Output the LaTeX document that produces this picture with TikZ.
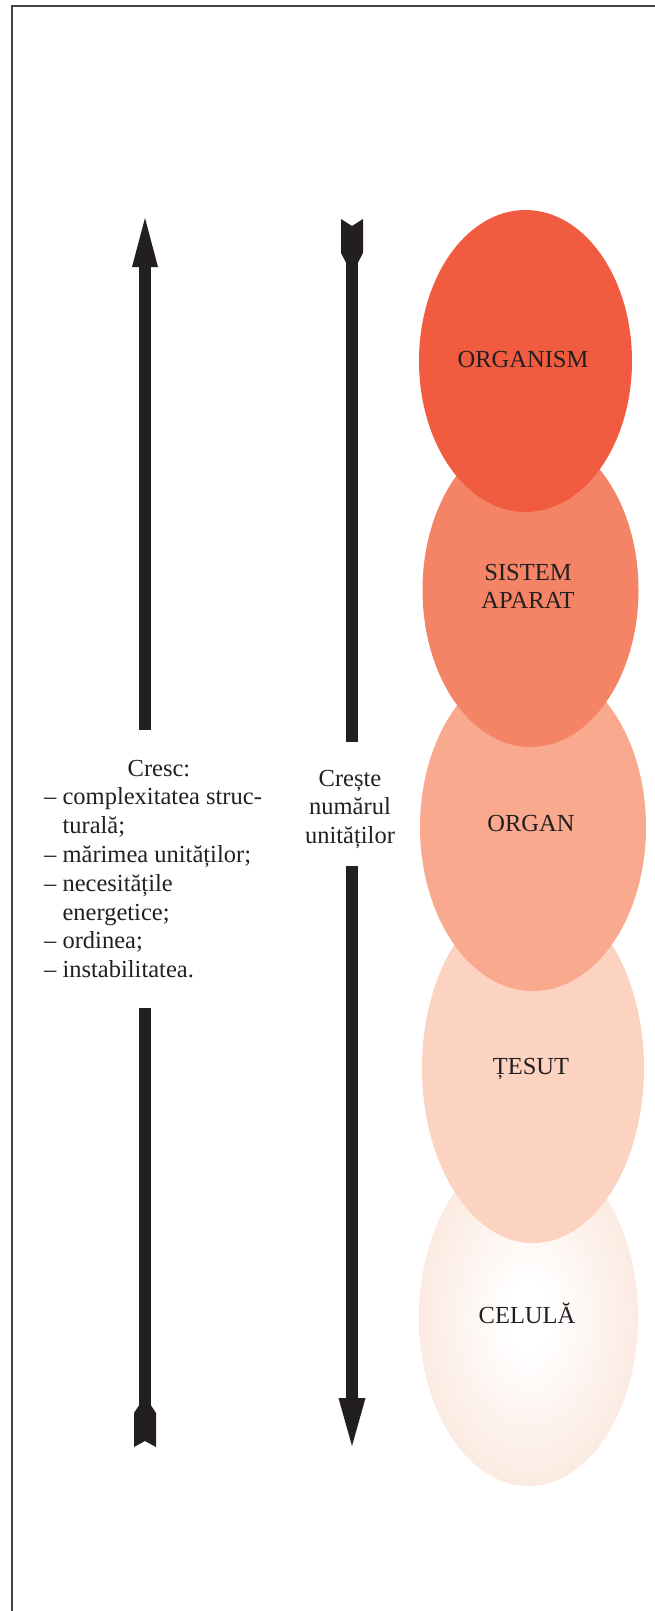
\documentclass[tikz,border=0pt]{standalone}
\usepackage{fontspec}
\setmainfont{Liberation Serif}
\usetikzlibrary{shapes.geometric,calc}
\definecolor{ink}{HTML}{231F20}
\definecolor{orgmcol}{HTML}{F15B40}
\definecolor{siscol}{HTML}{F58467}
\definecolor{orgcol}{HTML}{F9A98D}
\definecolor{tescol}{HTML}{FCD2C0}
\definecolor{celcol}{HTML}{FBE5DA}
\pgfdeclareradialshading{celshade}{\pgfpoint{0bp}{0bp}}{color(0bp)=(white); color(5bp)=(white); color(30bp)=(celcol); color(50bp)=(celcol)}
\begin{document}
\begin{tikzpicture}[x=1pt,y=-1pt,
  txt/.style={font=\fontsize{24.5}{28.8}\selectfont, text=ink, inner sep=0pt, anchor=base},
  blob/.style={ellipse, inner sep=0pt, outer sep=0pt, draw=none},
  shaft/.style={draw=ink, line width=11.5pt},
  tipfill/.style={fill=ink, draw=none}]
\useasboundingbox (0,0) rectangle (655,1611);
\draw[draw=ink!85, line width=1.5pt] (12,1611) -- (12,6) -- (655,6);

% ellipses, lowest level first
\node[blob, shade, shading=celshade, minimum width=219pt, minimum height=338pt] (celula) at (528.5,1317) {};
\node[blob, fill=tescol, minimum width=222pt, minimum height=350pt] (tesut) at (533,1068) {};
\node[blob, fill=orgcol, minimum width=226pt, minimum height=328pt] (organ) at (533,827) {};
\node[blob, fill=siscol, minimum width=216pt, minimum height=314pt] (sistem) at (530.5,590) {};
\node[blob, fill=orgmcol, minimum width=213pt, minimum height=302pt] (organism) at (525.5,361) {};

% labels (multi-line nodes: base = baseline of last line)
\node[txt] (lcel) at (527,1323) {CELULĂ};
\node[txt] (ltes) at (531,1074) {ȚESUT};
\node[txt] (lorg) at (531,831.5) {ORGAN};
\node[txt, align=center] (lsis) at (528,608.8) {SISTEM\\APARAT};
\node[txt] (lorgm) at (523,367) {ORGANISM};

% left text
\node[txt] (cresc) at (159,776) {Cresc:};
\node[txt, anchor=base west, align=left] (lst) at (44,977.6) {– complexitatea struc-\\\hspace*{0.75em}turală;\\– mărimea unităților;\\– necesitățile\\\hspace*{0.75em}energetice;\\– ordinea;\\– instabilitatea.};

% right text
\node[txt, align=center] (cres) at (350,843.6) {Crește\\numărul\\unităților};

% left arrow (up)
\coordinate (uTip) at (145,218);
\coordinate (uHeadBase) at (145,267);
\coordinate (uGapTop) at (145,730);
\coordinate (uGapBot) at (145,1008);
\coordinate (uTail) at (145,1405);
\fill[tipfill] (uTip) -- ($(uHeadBase)+(-13,0)$) -- ($(uHeadBase)+(13,0)$) -- cycle;
\draw[shaft] ($(uHeadBase)+(0,-2)$) -- (uGapTop);
\draw[shaft] (uGapBot) -- ($(uTail)+(0,1)$);
\fill[tipfill] ($(uTail)+(-5.75,0)$) -- ($(uTail)+(-11,8)$) -- ($(uTail)+(-11,42)$) -- ($(uTail)+(0,36)$) -- ($(uTail)+(11,42)$) -- ($(uTail)+(11,8)$) -- ($(uTail)+(5.75,0)$) -- cycle;

% right arrow (down)
\coordinate (dTailTop) at (352,219);
\coordinate (dTailNeck) at (352,263);
\coordinate (dGapTop) at (352,742);
\coordinate (dGapBot) at (352,866);
\coordinate (dHeadBase) at (352,1398);
\coordinate (dTip) at (352,1446);
\fill[tipfill] ($(dTailTop)+(-11,0)$) -- ($(dTailTop)+(0,7)$) -- ($(dTailTop)+(11,0)$) -- ($(dTailTop)+(11,34)$) -- ($(dTailNeck)+(5.75,0)$) -- ($(dTailNeck)+(-5.75,0)$) -- ($(dTailTop)+(-11,34)$) -- cycle;
\draw[shaft] ($(dTailNeck)+(0,-1)$) -- (dGapTop);
\draw[shaft] (dGapBot) -- ($(dHeadBase)+(0,2)$);
\fill[tipfill] (dTip) -- ($(dHeadBase)+(-13.5,0)$) -- ($(dHeadBase)+(13.5,0)$) -- cycle;
\end{tikzpicture}
\end{document}
